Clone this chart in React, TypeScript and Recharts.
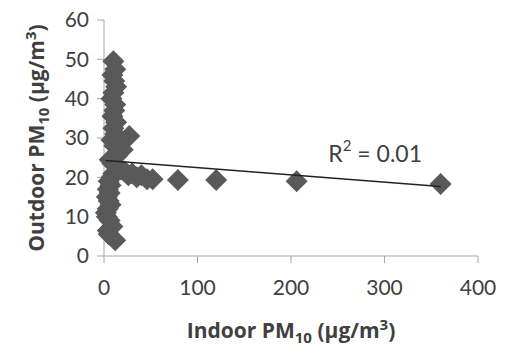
import React from "react";
import { ScatterChart, Scatter, XAxis, YAxis, Label, ReferenceDot } from "recharts";

const indoor = [
  10, 12, 9, 11, 13, 10, 8, 12, 11, 9, 13, 10, 12, 8, 11, 27, 20, 14,
  6, 9, 15, 18, 22, 26, 30, 35, 40, 46, 52, 79, 120, 206, 360,
  10, 8, 5, 7, 4, 6, 3, 5, 7, 4, 2, 3, 6, 9, 4, 5, 12,
];
const outdoor = [
  49.5, 47.5, 46, 44.5, 43, 41.5, 40, 38.5, 37, 35.5, 34, 32.5, 31, 29.5, 28, 30.5, 27, 25.5,
  24.5, 23.5, 22.5, 22, 21.5, 20.5, 21, 20, 20.5, 19.5, 19.5, 19.3, 19.3, 19, 18.3,
  21, 20, 19, 18, 17, 16, 15, 14, 13, 12, 11, 10, 9, 7.5, 6.5, 5.5, 4,
];
const trendX = [2, 360];
const trendY = [24.3, 17.7];
const xTicks = [0, 100, 200, 300, 400];
const yTicks = [0, 10, 20, 30, 40, 50, 60];
const rSquared = "0.01";

const points = indoor.map((x, i) => ({ x, y: outdoor[i] }));
const trend = trendX.map((x, i) => ({ x, y: trendY[i] }));

const FONT = "Lato, 'Open Sans', sans-serif";
const TITLE_FONT = "'Open Sans', Lato, sans-serif";
const TEXT = "#404040";

const Diamond = (props: any) => {
  const { cx, cy } = props;
  if (cx == null || cy == null) return null;
  const r = 11;
  return (
    <polygon
      points={`${cx},${cy - r} ${cx + r},${cy} ${cx},${cy + r} ${cx - r},${cy}`}
      fill="#595959"
    />
  );
};

const TitleBody = ({ word }: { word: string }) => (
  <>
    {word} PM
    <tspan dy={5} fontSize={15}>10</tspan>
    <tspan dy={-5}> (µg/m</tspan>
    <tspan dy={-8} fontSize={15}>3</tspan>
    <tspan dy={8}>)</tspan>
  </>
);

const XTitle = (props: any) => {
  const vb = props.viewBox || {};
  const cx = vb.x + vb.width / 2;
  const y = vb.y + 82;
  return (
    <text x={cx} y={y} textAnchor="middle" fontFamily={TITLE_FONT} fontWeight="bold" fontSize={21} fill={TEXT}>
      <TitleBody word="Indoor" />
    </text>
  );
};

const YTitle = (props: any) => {
  const vb = props.viewBox || {};
  const cy = vb.y + vb.height / 2;
  const x = 44;
  return (
    <text
      x={x}
      y={cy}
      transform={`rotate(-90, ${x}, ${cy})`}
      textAnchor="middle"
      fontFamily={TITLE_FONT}
      fontWeight="bold"
      fontSize={21}
      fill={TEXT}
    >
      <TitleBody word="Outdoor" />
    </text>
  );
};

const RText = (props: any) => {
  const { cx, cy } = props;
  return (
    <text x={cx} y={cy} textAnchor="middle" dominantBaseline="central" fontFamily={FONT} fontSize={23} fill={TEXT}>
      R<tspan dy={-8} fontSize={15}>2</tspan>
      <tspan dy={8}>{` = ${rSquared}`}</tspan>
    </text>
  );
};

export default function App() {
  return (
    <div style={{ position: "absolute", left: 0, top: 0, background: "#fff" }}>
      <ScatterChart width={506} height={349} margin={{ top: 20, right: 28, left: 0, bottom: 0 }}>
        <XAxis
          type="number"
          dataKey="x"
          domain={[0, 400]}
          ticks={xTicks}
          interval={0}
          height={93}
          tickSize={7}
          tickMargin={17}
          axisLine={{ stroke: "#a6a6a6" }}
          tickLine={{ stroke: "#a6a6a6" }}
          tick={{ fill: TEXT, fontSize: 21, fontFamily: FONT }}
        >
          <Label content={<XTitle />} />
        </XAxis>
        <YAxis
          type="number"
          dataKey="y"
          domain={[0, 60]}
          ticks={yTicks}
          interval={0}
          width={104}
          tickSize={7}
          tickMargin={8}
          axisLine={{ stroke: "#a6a6a6" }}
          tickLine={{ stroke: "#a6a6a6" }}
          tick={{ fill: TEXT, fontSize: 21, fontFamily: FONT }}
        >
          <Label content={<YTitle />} />
        </YAxis>
        <Scatter data={points} shape={<Diamond />} isAnimationActive={false} />
        <Scatter
          data={trend}
          line={{ stroke: "#222", strokeWidth: 1.5 }}
          shape={() => <g />}
          isAnimationActive={false}
        />
        <ReferenceDot x={290} y={26.2} r={0} shape={<RText />} />
      </ScatterChart>
    </div>
  );
}
